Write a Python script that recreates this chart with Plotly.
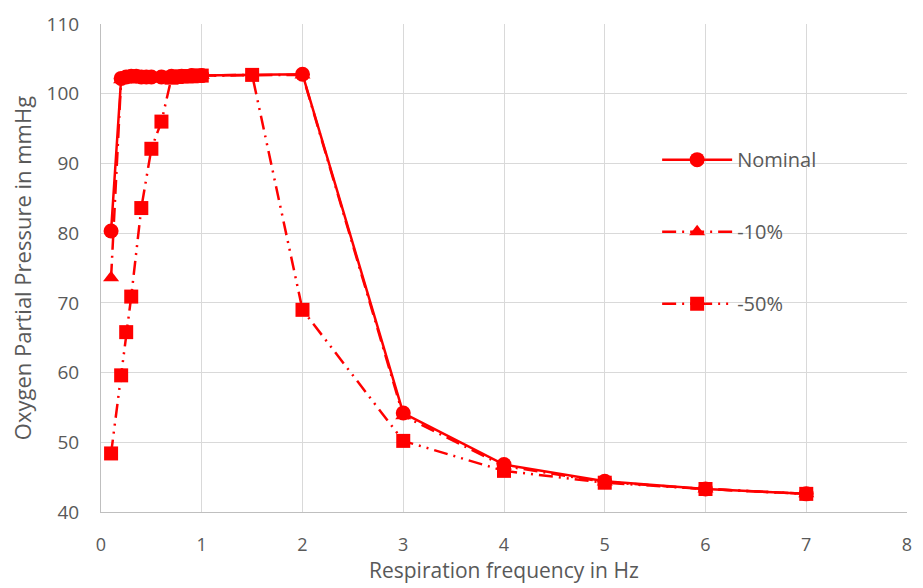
import plotly.graph_objects as go

# Respiration frequency (Hz) and oxygen partial pressure (mmHg)
freq_nominal = [0.1, 0.2, 0.25, 0.3, 0.35, 0.4, 0.45, 0.5, 0.6, 0.7, 0.8, 0.9, 1.0, 2, 3, 4, 5, 6, 7]
po2_nominal = [80.3, 102.2, 102.4, 102.5, 102.5, 102.4, 102.4, 102.4, 102.4, 102.5, 102.5, 102.6, 102.6, 102.8, 54.2, 46.8, 44.4, 43.3, 42.6]

freq_minus10 = [0.1, 0.2, 0.25, 0.3, 0.35, 0.4, 0.45, 0.5, 0.6, 0.7, 0.8, 0.9, 1.0, 2, 3, 4, 5, 6, 7]
po2_minus10 = [73.6, 102.0, 102.3, 102.4, 102.4, 102.4, 102.4, 102.4, 102.4, 102.5, 102.5, 102.5, 102.6, 102.7, 53.8, 46.6, 44.3, 43.3, 42.6]

freq_minus50 = [0.1, 0.2, 0.25, 0.3, 0.4, 0.5, 0.6, 0.7, 0.75, 0.8, 0.85, 0.9, 0.95, 1.0, 1.5, 2, 3, 4, 5, 6, 7]
po2_minus50 = [48.4, 59.6, 65.8, 70.9, 83.6, 92.1, 96.0, 102.3, 102.4, 102.5, 102.5, 102.5, 102.6, 102.6, 102.7, 69.0, 50.2, 45.9, 44.2, 43.3, 42.6]

x_ticks = [0, 1, 2, 3, 4, 5, 6, 7, 8]
y_ticks = [40, 50, 60, 70, 80, 90, 100, 110]

RED = "#FF0000"
GREY = "#595959"
FONT = "Open Sans"

fig = go.Figure()
fig.add_trace(go.Scatter(
    x=freq_nominal, y=po2_nominal, name="Nominal", mode="lines+markers",
    line=dict(color=RED, width=2.5),
    marker=dict(symbol="circle", size=15, color=RED),
    legendgroup="a",
))
fig.add_trace(go.Scatter(
    x=freq_minus10, y=po2_minus10, name="-10%", mode="lines+markers",
    line=dict(color=RED, width=2.5, dash="14px,6px,2px,6px"),
    marker=dict(symbol="triangle-up", size=14, color=RED),
    legendgroup="b",
))
fig.add_trace(go.Scatter(
    x=freq_minus50, y=po2_minus50, name="-50%", mode="lines+markers",
    line=dict(color=RED, width=2.5, dash="14px,6px,2px,6px,2px,6px"),
    marker=dict(symbol="square", size=14, color=RED),
    legendgroup="c",
))

fig.update_layout(
    width=923, height=588,
    margin=dict(l=101, r=11, t=18, b=76),
    plot_bgcolor="white", paper_bgcolor="white",
    font=dict(family=FONT, color=GREY, size=19),
    legend=dict(
        x=0.69, y=0.762, xanchor="left", yanchor="top",
        font=dict(family=FONT, color=GREY, size=20),
        tracegroupgap=43, itemwidth=70, bgcolor="rgba(0,0,0,0)",
    ),
    xaxis=dict(
        range=[0, 8], tickvals=x_ticks, ticktext=[str(v) for v in x_ticks],
        showgrid=True, gridcolor="#D9D9D9", gridwidth=1,
        showline=True, linecolor="#BFBFBF", linewidth=1,
        zeroline=False, ticks="", ticklen=0, ticklabelstandoff=16,
        tickfont=dict(size=18, color=GREY),
    ),
    yaxis=dict(
        range=[40, 110], tickvals=y_ticks, ticktext=[str(v) for v in y_ticks],
        showgrid=True, gridcolor="#D9D9D9", gridwidth=1,
        showline=True, linecolor="#BFBFBF", linewidth=1,
        zeroline=False, ticks="", ticklen=0, ticklabelstandoff=17,
        tickfont=dict(size=19, color=GREY),
        title=dict(text="Oxygen Partial Pressure in mmHg", font=dict(size=22, color=GREY), standoff=8),
    ),
    annotations=[dict(
        text="Respiration frequency in Hz", xref="paper", yref="paper",
        x=0.5, y=-0.1194, xanchor="center", yanchor="middle", showarrow=False,
        font=dict(size=21, color=GREY, family=FONT),
    )],
)

fig.write_html("out.html")
